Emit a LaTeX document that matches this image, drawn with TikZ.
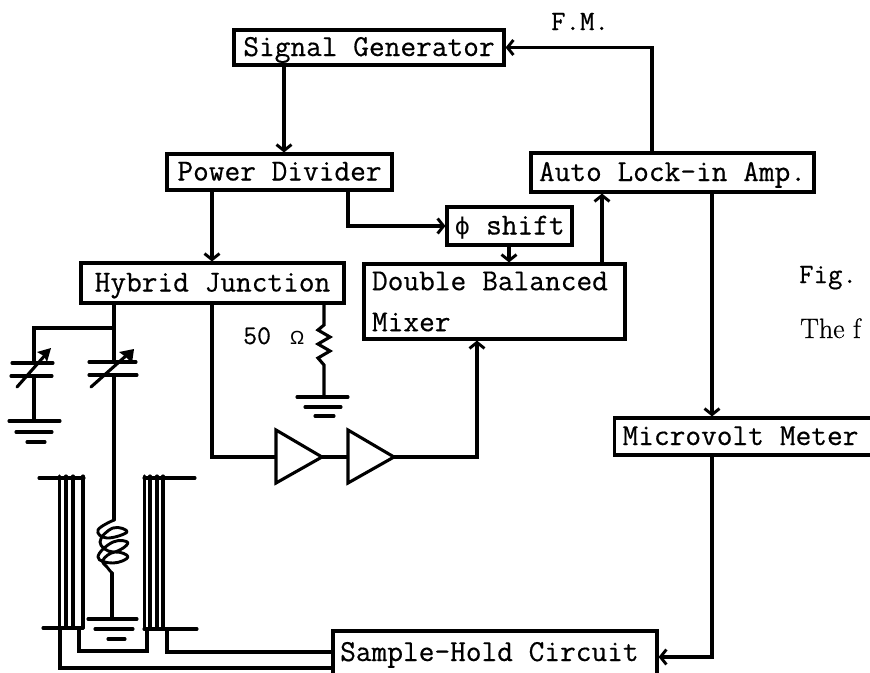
\documentclass[tikz,border=0pt]{standalone}
\usepackage{fontspec}
\usetikzlibrary{arrows.meta,decorations.pathmorphing}
\newfontfamily\omfont{Liberation Sans}
\newfontfamily\phifont{DejaVu Sans}
\setmonofont{Latin Modern Mono}[WordSpace={1,0,0},FakeBold=0.5]
\setmainfont{Latin Modern Roman}[FakeBold=0.5]
\tikzset{
  wire/.style={line width=3.1pt,line join=miter,line cap=round},
  arr/.style={wire,-{Straight Barb[length=6pt,width=15pt,line width=2.9pt]}},
  thinwire/.style={line width=3.1pt,line cap=round},
  plate/.style={line width=3.1pt,line cap=round},
  blk/.style={draw,line width=3.1pt,inner sep=0pt,font=\fontsize{30.5}{41}\selectfont\ttfamily,text height=20pt,text depth=3pt,align=center},
  lab/.style={inner sep=0pt,font=\fontsize{30.5}{36}\selectfont\ttfamily,text height=20pt,text depth=3pt},
  tri/.style={line width=3.1pt,line join=miter,fill=white}
}
\begin{document}
\begin{tikzpicture}[x=1pt,y=-1pt]
\useasboundingbox (0,0) rectangle (870,672);
% columns and rows for connectors
\coordinate (c284) at (284,0);
\coordinate (c212) at (212,0);
\coordinate (c348) at (348,0);
\coordinate (c509) at (509,0);
\coordinate (c602) at (602,0);
\coordinate (c652) at (652,0);
\coordinate (c711) at (712,0);
\coordinate (c113) at (114,0);
\coordinate (c324) at (324,0);
\coordinate (c477) at (477,0);
\coordinate (r652) at (0,652);
\coordinate (r668) at (0,668);
% blocks
\node[blk,minimum width=270pt,minimum height=35pt] (sg) at (369,47.5) {Signal Generator};
\node[blk,minimum width=225pt,minimum height=36pt] (pd) at (279.5,172) {Power Divider};
\node[blk,minimum width=283pt,minimum height=39pt] (al) at (672.5,172.5) {Auto Lock-in Amp.};
\node[blk,minimum width=125pt,minimum height=38pt] (ps) at (509.5,226) {\makebox[16pt]{\phifont\fontsize{23}{23}\selectfont ϕ} shift};
\node[draw,line width=3.1pt,inner sep=0pt,minimum width=261pt,minimum height=75pt,text width=245pt,align=left,
      font=\fontsize{30.5}{41}\selectfont\ttfamily] (dbm) at (494.5,301.5) {\spaceskip=16pt\relax Double Balanced\\Mixer};
\node[blk,minimum width=263pt,minimum height=40pt] (hj) at (212.5,283) {Hybrid Junction};
\node[blk,minimum width=262pt,minimum height=37pt,anchor=west,text width=246pt,align=left] (mv) at (613,436.5) {\spaceskip=16pt\relax Microvolt Meter};
\node[blk,minimum width=324pt,minimum height=52pt] (sh) at (495,657) {};
\node[lab,anchor=base west] (shl) at (340,661) {Sample-Hold Circuit};
% labels
\node[lab,anchor=base west,font=\fontsize{28}{32}\selectfont\ttfamily] (fm) at (551,30) {F.M.};
\node[lab,anchor=base west,font=\fontsize{28}{32}\selectfont\ttfamily] (fig) at (799,283) {Fig.};
\node[inner sep=0pt,anchor=base west,font=\fontsize{28}{32}\selectfont] (thef) at (800,338) {The f};
\node[inner sep=0pt,anchor=base west,font=\fontsize{27}{30}\selectfont\ttfamily] (r50) at (243,344) {50};
\node[inner sep=0pt,anchor=base west,font=\fontsize{19}{20}\selectfont\omfont] (ohm) at (290,344) {Ω};
% connectors
\draw[arr] (sg.south -| c284) -- (pd.north -| c284);
\draw[arr] (pd.south -| c212) -- (hj.north -| c212);
\draw[arr] (pd.south -| c348) |- (ps.west);
\draw[arr] (ps.south -| c509) -- (dbm.north -| c509);
\draw[arr] (dbm.north -| c602) -- (al.south -| c602);
\draw[arr] (al.north -| c652) |- (sg.east);
\draw[arr] (al.south -| c711) -- (mv.north -| c711);
\draw[arr] (mv.south -| c711) |- (sh.east);
% amplifiers
\coordinate (a1l) at (276,457); \coordinate (a1r) at (322,457);
\coordinate (a2l) at (348,457); \coordinate (a2r) at (394,457);
\draw[wire] (hj.south -| c212) |- (a1l);
\draw[wire] (a1r) -- (a2l);
\draw[arr] (a2r) -| (dbm.south -| c477);
\draw[tri] (276,430) -- (276,483) -- (322,457) -- cycle;
\draw[tri] (348,430) -- (348,483) -- (394,457) -- cycle;
% resistor
\coordinate (rt) at (324,325); \coordinate (rb) at (324,365); \coordinate (g3) at (324,397);
\draw[wire] (hj.south -| c324) -- (rt) -- (318,330) -- (330,337) -- (318,344) -- (330,351) -- (318,358) -- (rb) -- (g3);
\draw[plate] (297,397) -- (348,397);
\draw[plate] (305,407) -- (341,407);
\draw[plate] (315,416) -- (334,416);
% left capacitor branch
\coordinate (lc1) at (34,363); \coordinate (lc2) at (34,376); \coordinate (lg) at (34,421);
\draw[wire] (hj.south -| c113) |- (34,328) -- (lc1);
\draw[thinwire] (lc2) -- (lg);
\draw[plate] (12,363) -- (53,363);
\draw[plate] (11,376) -- (52,376);
\draw[plate] (17,387) -- (47,353);
\fill (51,348) -- (37,352) -- (44,356) -- (47,362) -- cycle;
\draw[plate] (9,421) -- (60,421);
\draw[plate] (16,432) -- (52,432);
\draw[plate] (27,442) -- (45,442);
% right capacitor branch
\coordinate (rc1) at (114,362); \coordinate (rc2) at (114,375);
\draw[wire] (hj.south -| c113) -- (rc1);
\draw[plate] (89,362) -- (136,362);
\draw[plate] (89,375) -- (137,375);
\draw[plate] (91,387) -- (128,354);
\fill (134,349) -- (119,352) -- (126,357) -- (132,363) -- cycle;
% sample coil
\draw[wire] (rc2) -- (114,520);
\draw[line width=2.9pt,line join=round] plot[smooth,tension=.75] coordinates {
 (114,520) (98,530) (107,538) (127,532) (113,528) (100,542) (113,552) (128,543) (113,542) (98,557) (113,563) (128,557) (115,552) (103,560) (107,567) (112,573)};
\draw[wire] (112,573) -- (112,619);
\draw[plate] (88,619) -- (137,619);
\draw[plate] (95,629) -- (133,629);
\draw[plate] (108,639) -- (125,639);
% magnet windings
\foreach \xa in {59.5,66,73,83}{\draw[thinwire] (\xa,476) -- (\xa,628);}
\foreach \xa in {144.5,150,157,163}{\draw[thinwire] (\xa,476) -- (\xa,629);}
\draw[wire] (39,478) -- (84,478);
\draw[wire] (144,478) -- (195,478);
\draw[wire] (43,628) -- (83,628);
\draw[wire] (144,629) -- (197,629);
\draw[wire] (79,628) -- (79,651) -- (147,651) -- (147,629);
\draw[wire] (167,629) -- (167,652) -- (sh.west |- r652);
\draw[wire] (60,628) -- (60,668) -- (sh.west |- r668);
\end{tikzpicture}
\end{document}
